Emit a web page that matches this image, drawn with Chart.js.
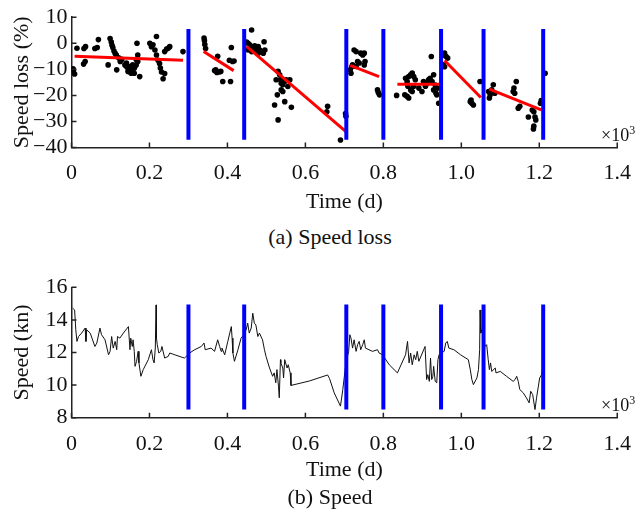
<!DOCTYPE html>
<html>
<head>
<meta charset="utf-8">
<script src="https://cdn.jsdelivr.net/npm/chart.js@4/dist/chart.umd.min.js"></script>
<style>
  body { margin: 0; background: #fff; width: 644px; height: 511px; position: relative; overflow: hidden;
         font-family: 'Liberation Serif', 'Times New Roman', Times, serif; color: #111; }
  .panel { position: absolute; left: 0; }
  .caption { position: absolute; left: 0; width: 660px; text-align: center; font-size: 22px; line-height: 26px; }
  .mult { position: absolute; left: 601px; font-size: 18px; line-height: 18px; white-space: nowrap; }
  .mult sup { font-size: 12px; }
</style>
</head>
<body>
<canvas id="lossChart" class="panel" style="top:0" width="644" height="215"></canvas>
<div class="caption" style="top:224px">(a) Speed loss</div>
<canvas id="speedChart" class="panel" style="top:270px" width="644" height="241"></canvas>
<div class="caption" style="top:484px">(b) Speed</div>
<div class="mult" style="top:121px">×10<sup>3</sup></div>
<div class="mult" style="top:391px">×10<sup>3</sup></div>
<script>
// Time axis is in thousands of days (x 10^3)
const xTicks = [0, 0.2, 0.4, 0.6, 0.8, 1.0, 1.2, 1.4];
const lossTicks = [-40, -30, -20, -10, 0, 10];
const speedTicks = [8, 10, 12, 14, 16];

// cleaning / dry-dock events (vertical blue lines)
const eventTimes = [0.300, 0.443, 0.705, 0.800, 0.948, 1.057, 1.210];

// (a) speed loss samples
const lossTime = [
  0.005, 0.008, 0.004, 0.014, 0.032, 0.036, 0.031, 0.035, 0.060, 0.066, 0.069, 0.099, 0.102, 0.104, 0.106,
  0.109, 0.112, 0.115, 0.094, 0.116, 0.121, 0.125, 0.129, 0.137, 0.141, 0.145, 0.149, 0.153, 0.157, 0.161,
  0.166, 0.170, 0.161, 0.153, 0.145, 0.141, 0.149, 0.157, 0.166, 0.168, 0.170, 0.175, 0.162, 0.201, 0.205,
  0.209, 0.218, 0.214, 0.218, 0.222, 0.226, 0.231, 0.235, 0.239, 0.239, 0.248, 0.252, 0.286, 0.228, 0.244,
  0.340, 0.341, 0.342, 0.344, 0.375, 0.367, 0.373, 0.379, 0.383, 0.370, 0.388, 0.408, 0.410, 0.405, 0.413, 0.417,
  0.462, 0.449, 0.453, 0.457, 0.462, 0.466, 0.470, 0.474, 0.479, 0.483, 0.487, 0.492, 0.494, 0.496, 0.453,
  0.462, 0.470, 0.479, 0.530, 0.534, 0.536, 0.538, 0.525, 0.542, 0.547, 0.551, 0.555, 0.560, 0.528, 0.538,
  0.542, 0.547, 0.521, 0.530, 0.564, 0.657, 0.655, 0.690, 0.703, 0.704,
  0.715, 0.717, 0.719, 0.721, 0.725, 0.730, 0.734, 0.738, 0.742, 0.747, 0.751, 0.753, 0.751, 0.730, 0.785, 0.787, 0.790,
  0.834, 0.857, 0.861, 0.865, 0.870, 0.874, 0.878, 0.882, 0.863, 0.870, 0.874, 0.878, 0.855, 0.861, 0.865,
  0.891, 0.899, 0.903, 0.908, 0.912, 0.916, 0.920, 0.925, 0.923, 0.929, 0.929, 0.933, 0.935, 0.937, 0.942, 0.939,
  0.953, 0.957, 0.961, 0.965, 0.954, 0.957, 1.048, 1.023, 1.027, 1.031, 1.025,
  1.070, 1.074, 1.078, 1.082, 1.086, 1.072, 1.133, 1.137, 1.141, 1.135, 1.146, 1.150, 1.172, 1.182, 1.186,
  1.189, 1.191, 1.186, 1.203, 1.205, 1.185, 1.215
];
const lossValue = [
  -10.5, -11.8, -9.8, -1.9, -2.0, -1.3, -8.0, -7.0, -2.0, -1.6, 1.4, 1.8, 0.5, -0.8, -1.6,
  -3.0, -3.9, -4.5, -8.3, -10.2, -5.6, -7.0, -6.2, -8.3, -8.9, -9.6, -10.8, -11.5, -10.2, -9.6,
  -8.3, -7.0, -11.5, -10.2, -10.8, -7.6, -8.9, -8.3, -6.2, 0.0, -4.5, -12.8, -9.0, 0.0, -1.3,
  -0.6, 2.6, -2.6, -4.5, -6.5, -7.8, -11.0, -13.6, -11.6, -3.2, -1.9, -1.3, -3.2, -9.5, -2.2,
  2.0, 1.0, -0.5, -2.0, -5.0, -10.5, -11.2, -11.0, -10.8, -10.2, -14.7, -14.7, -1.6, -6.5, -7.0, -6.8,
  5.1, 0.5, 0.0, -0.6, -1.3, -1.9, -1.0, -1.9, -1.3, -2.6, -3.2, -3.8, 0.6, -2.6, -2.6,
  -3.2, -3.0, -3.8, -10.8, -12.1, -14.0, -15.3, -14.0, -15.9, -14.7, -14.0, -16.6, -14.0, -19.8, -17.9,
  -18.5, -22.4, -23.7, -29.4, -24.6, -24.2, -26.3, -37.1, -27.0, -28.0,
  -10.2, -11.5, -9.0, -8.3, -2.6, -3.2, -7.0, -7.6, -3.8, -4.5, -3.8, -7.0, -8.3, -8.9, -17.9, -18.9, -19.8,
  -20.0, -13.4, -14.7, -12.8, -12.1, -11.4, -12.8, -14.0, -16.5, -17.9, -18.5, -16.5, -19.8, -20.4, -21.0,
  -17.2, -18.5, -14.7, -16.5, -15.3, -14.0, -13.4, -14.7, -5.1, -12.1, -17.9, -16.0, -19.2, -19.8, -23.0, -17.2,
  -4.5, -3.8, -5.1, -5.7, -8.3, -9.0, -14.7, -22.4, -23.0, -23.7, -21.8,
  -18.5, -19.8, -17.9, -15.9, -19.2, -21.0, -18.5, -19.2, -14.7, -17.2, -24.9, -24.2, -28.3, -25.6, -26.3,
  -28.3, -29.4, -31.8, -23.0, -22.0, -32.9, -11.5
];

// linear fits between events
const fitStartX = [0.008, 0.339, 0.449, 0.715, 0.836, 0.957, 1.072];
const fitStartY = [-5.0, -3.2, -1.2, -8.5, -15.7, -6.6, -17.6];
const fitEndX = [0.286, 0.416, 0.704, 0.789, 0.943, 1.050, 1.205];
const fitEndY = [-6.5, -10.5, -33.9, -12.8, -15.7, -20.8, -25.6];

// (b) speed through water
const speedTime = [
  0.003, 0.008, 0.011, 0.014, 0.018, 0.026, 0.035, 0.037, 0.039, 0.048, 0.060, 0.065, 0.073, 0.077, 0.086,
  0.095, 0.099, 0.103, 0.107, 0.112, 0.116, 0.118, 0.124, 0.133, 0.146, 0.150, 0.152, 0.156, 0.158, 0.161,
  0.163, 0.167, 0.171, 0.173, 0.178, 0.184, 0.197, 0.205, 0.209, 0.212, 0.215, 0.217, 0.218, 0.220, 0.224,
  0.229, 0.232, 0.239, 0.248, 0.252, 0.265, 0.282, 0.290, 0.303, 0.316, 0.333, 0.340, 0.343, 0.358, 0.367,
  0.375, 0.380, 0.384, 0.386, 0.393, 0.401, 0.410, 0.412, 0.414, 0.418, 0.427, 0.435, 0.442, 0.448, 0.452,
  0.456, 0.461, 0.465, 0.469, 0.473, 0.478, 0.482, 0.490, 0.495, 0.499, 0.508, 0.516, 0.520, 0.524, 0.527,
  0.531, 0.533, 0.536, 0.537, 0.542, 0.544, 0.547, 0.553, 0.556, 0.561, 0.563, 0.610, 0.657, 0.662, 0.674,
  0.690, 0.696, 0.704, 0.711, 0.714, 0.717, 0.721, 0.725, 0.730, 0.734, 0.738, 0.742, 0.747, 0.751, 0.754,
  0.772, 0.785, 0.789, 0.798, 0.815, 0.836, 0.857, 0.862, 0.866, 0.870, 0.874, 0.879, 0.883, 0.887, 0.891,
  0.907, 0.911, 0.914, 0.918, 0.921, 0.924, 0.927, 0.929, 0.933, 0.937, 0.940, 0.943, 0.947, 0.956, 0.960,
  0.964, 0.968, 0.981, 0.998, 1.018, 1.023, 1.027, 1.031, 1.040, 1.044, 1.047, 1.048, 1.050, 1.052, 1.057,
  1.061, 1.065, 1.069, 1.072, 1.075, 1.078, 1.087, 1.089, 1.100, 1.116, 1.133, 1.138, 1.142, 1.146, 1.150,
  1.159, 1.167, 1.174, 1.178, 1.183, 1.189, 1.193, 1.197, 1.201, 1.206, 1.208, 1.212
];
const speedValue = [
  14.72, 14.61, 13.39, 12.68, 12.98, 13.19, 13.50, 12.68, 13.39, 13.19, 12.37, 12.58, 13.50, 13.09, 12.78,
  11.86, 12.07, 12.98, 12.27, 12.68, 12.17, 12.98, 12.88, 13.19, 13.59, 12.17, 12.88, 12.37, 12.78, 12.07,
  11.15, 11.46, 12.07, 11.36, 10.54, 10.95, 11.56, 12.17, 11.56, 11.36, 12.27, 14.92, 12.88, 12.48, 11.97,
  12.07, 12.37, 11.66, 11.76, 11.97, 11.86, 11.72, 11.66, 11.97, 12.17, 12.37, 12.58, 12.17, 12.27, 12.07,
  12.78, 12.37, 12.07, 12.27, 11.86, 12.68, 13.59, 12.88, 11.97, 11.46, 12.17, 12.88, 13.09, 13.39, 13.80,
  13.19, 13.50, 14.41, 13.80, 13.69, 12.98, 13.19, 12.78, 12.17, 11.76, 11.05, 10.54, 10.75, 10.14, 10.95,
  9.93, 9.22, 11.56, 11.36, 11.05, 10.44, 11.56, 11.05, 11.25, 10.75, 9.98, 10.25, 10.62, 10.40, 9.52,
  8.71, 9.73, 11.36, 12.07, 13.09, 12.88, 12.27, 12.78, 12.07, 12.48, 12.68, 12.17, 12.48, 12.78, 12.27,
  12.07, 12.17, 11.97, 11.86, 11.25, 10.75, 11.86, 12.68, 11.36, 11.97, 11.25, 11.86, 11.56, 12.07, 11.46,
  12.37, 10.34, 10.64, 10.23, 11.66, 10.34, 10.54, 11.15, 10.23, 10.14, 11.56, 11.86, 11.97, 12.07, 12.58,
  12.68, 12.27, 12.17, 11.86, 11.56, 10.95, 10.34, 10.03, 10.44, 10.95, 12.17, 14.61, 13.19, 13.39, 12.98,
  12.37, 12.48, 11.56, 10.95, 11.36, 10.84, 11.05, 10.75, 10.84, 10.54, 10.23, 10.34, 10.54, 10.23, 9.73,
  9.52, 9.22, 8.91, 9.62, 9.42, 8.50, 9.22, 9.83, 10.44, 10.64, 10.95, 12.17
];

const axisColor = '#222';
Chart.defaults.font.family = "'Liberation Serif', 'Times New Roman', Times, serif";
Chart.defaults.color = '#111';

// MATLAB-style ticks pointing into the plot
const innerTicks = {
  id: 'innerTicks',
  afterDraw(chart) {
    const { ctx, chartArea, scales } = chart;
    ctx.save();
    ctx.strokeStyle = axisColor;
    ctx.lineWidth = 1.5;
    ctx.beginPath();
    scales.x.ticks.forEach(t => {
      const px = scales.x.getPixelForValue(t.value);
      ctx.moveTo(px, chartArea.bottom);
      ctx.lineTo(px, chartArea.bottom - 5);
    });
    scales.y.ticks.forEach(t => {
      const py = scales.y.getPixelForValue(t.value);
      ctx.moveTo(chartArea.left, py);
      ctx.lineTo(chartArea.left + 5, py);
    });
    ctx.stroke();
    ctx.restore();
  }
};

function eventLines(yTop, yBottom) {
  return eventTimes.map(t => ({
    data: [{ x: t, y: yTop }, { x: t, y: yBottom }],
    showLine: true,
    borderColor: '#0000ff',
    borderWidth: 4,
    borderCapStyle: 'butt',
    pointRadius: 0,
    order: 1
  }));
}

function makeOptions(yTicks, yTitle, xHeight, titlePadBottom, padTop) {
  return {
    responsive: false,
    animation: false,
    layout: { padding: { top: padTop, right: 22, left: 0, bottom: 0 } },
    plugins: { legend: { display: false }, tooltip: { enabled: false } },
    scales: {
      x: {
        type: 'linear',
        min: xTicks[0],
        max: xTicks[xTicks.length - 1],
        afterBuildTicks: scale => { scale.ticks = xTicks.map(v => ({ value: v })); },
        afterFit: scale => { scale.height = xHeight; },
        grid: { display: false, drawTicks: false },
        border: { display: true, color: axisColor, width: 1.5 },
        ticks: {
          padding: 13,
          autoSkip: false,
          maxRotation: 0,
          font: { size: 22 },
          callback: v => (v === 0 ? '0' : v.toFixed(1))
        },
        title: { display: true, text: 'Time (d)', font: { size: 22 }, padding: { top: 0, bottom: titlePadBottom } }
      },
      y: {
        type: 'linear',
        min: yTicks[0],
        max: yTicks[yTicks.length - 1],
        afterBuildTicks: scale => { scale.ticks = yTicks.map(v => ({ value: v })); },
        afterFit: scale => { scale.width = 71.5; },
        grid: { display: false, drawTicks: false },
        border: { display: true, color: axisColor, width: 1.5 },
        ticks: {
          padding: 4,
          autoSkip: false,
          font: { size: 22 },
          callback: v => (v < 0 ? '\u2212' + Math.abs(v) : String(v))
        },
        title: { display: true, text: yTitle, font: { size: 22 }, padding: { top: 9, bottom: 0 } }
      }
    }
  };
}

// (a) speed loss
const fitLines = fitStartX.map((x0, i) => ({
  data: [{ x: x0, y: fitStartY[i] }, { x: fitEndX[i], y: fitEndY[i] }],
  showLine: true,
  borderColor: '#ff0000',
  borderWidth: 3,
  pointRadius: 0,
  order: 2
}));

new Chart(document.getElementById('lossChart'), {
  type: 'scatter',
  data: {
    datasets: [
      {
        data: lossTime.map((t, i) => ({ x: t, y: lossValue[i] })),
        pointRadius: 2.8,
        pointBackgroundColor: '#000',
        pointBorderWidth: 0,
        order: 3
      },
      ...fitLines,
      ...eventLines(5.5, -37)
    ]
  },
  options: makeOptions(lossTicks, 'Speed loss (%)', 67.5, 0, 17),
  plugins: [innerTicks]
});

// (b) speed
new Chart(document.getElementById('speedChart'), {
  type: 'scatter',
  data: {
    datasets: [
      {
        data: speedTime.map((t, i) => ({ x: t, y: speedValue[i] })),
        showLine: true,
        borderColor: '#111',
        borderWidth: 1,
        pointRadius: 0,
        order: 3
      },
      ...eventLines(14.95, 8.5)
    ]
  },
  options: makeOptions(speedTicks, 'Speed (kn)', 93.3, 27.8, 17.3),
  plugins: [innerTicks]
});
</script>
</body>
</html>
